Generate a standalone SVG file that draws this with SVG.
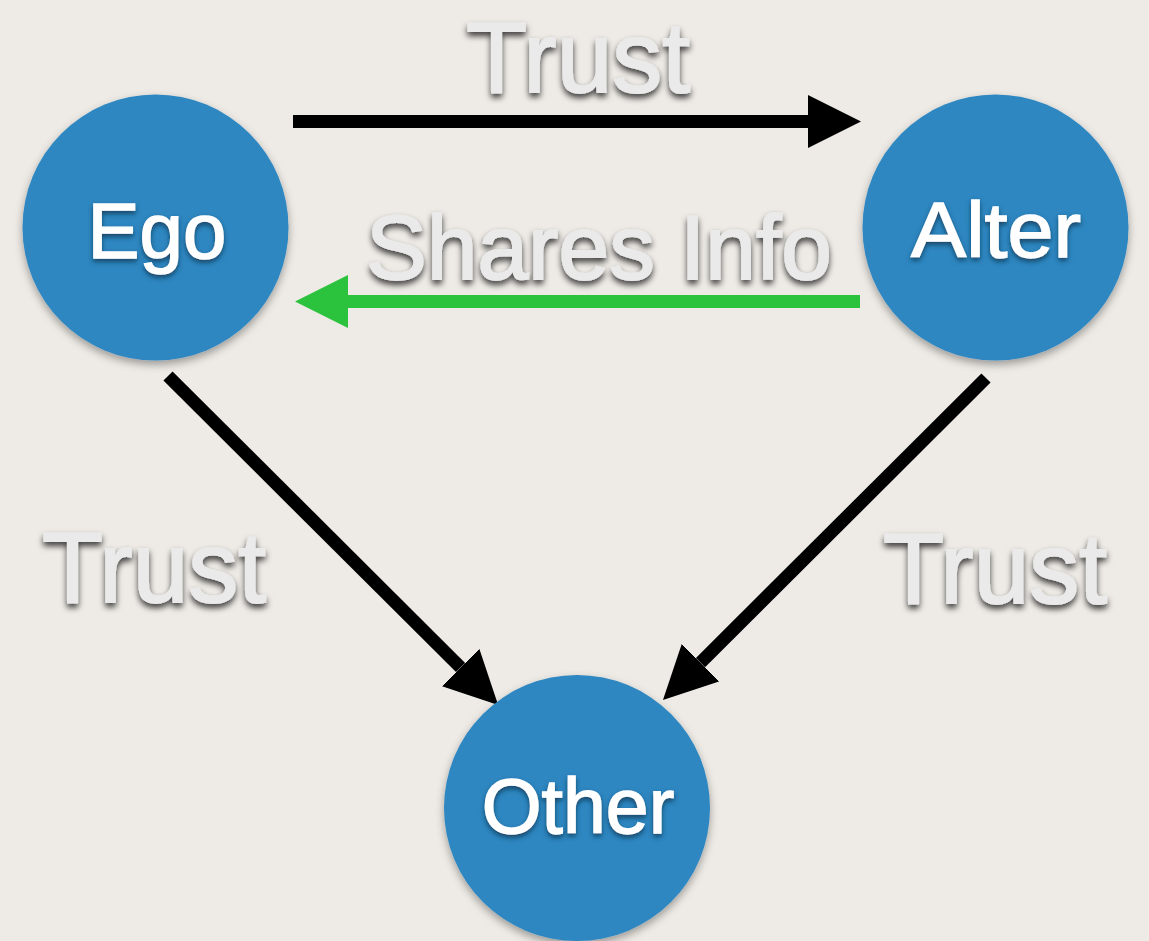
<svg xmlns="http://www.w3.org/2000/svg" width="1149" height="941" viewBox="0 0 1149 941">
  <defs>
    <filter id="nodeShadow" x="-20%" y="-20%" width="140%" height="140%">
      <feDropShadow dx="0" dy="4" stdDeviation="4" flood-color="#000" flood-opacity="0.35"/>
    </filter>
    <filter id="textShadow" x="-20%" y="-30%" width="140%" height="160%">
      <feDropShadow dx="0" dy="4" stdDeviation="3" flood-color="#000" flood-opacity="0.75"/>
    </filter>
    <filter id="labelShadow" x="-20%" y="-30%" width="140%" height="160%">
      <feDropShadow dx="0" dy="3" stdDeviation="2.5" flood-color="#0b3550" flood-opacity="0.8"/>
    </filter>
    <marker id="headBlack" markerUnits="userSpaceOnUse" markerWidth="54" markerHeight="54" refX="0" refY="26.5" orient="auto">
      <path d="M0,0 L53,26.5 L0,53 Z" fill="#000"/>
    </marker>
    <marker id="headGreen" markerUnits="userSpaceOnUse" markerWidth="54" markerHeight="54" refX="0" refY="26.5" orient="auto">
      <path d="M0,0 L53,26.5 L0,53 Z" fill="#2bc23d"/>
    </marker>
  </defs>
  <style>
    .node { fill: #2f87c1; filter: url(#nodeShadow); }
    .nlabel { font-family: "Liberation Sans", Arial, sans-serif; fill: #ffffff; stroke: #ffffff; stroke-width: 1.4; text-anchor: middle; filter: url(#labelShadow); }
    .elabel { font-family: "Liberation Sans", Arial, sans-serif; fill: #eaeaea; stroke: #eaeaea; stroke-width: 1.8; text-anchor: middle; filter: url(#textShadow); }
    .edge { stroke: #000; stroke-width: 13; fill: none; marker-end: url(#headBlack); }
    .edgeGreen { stroke: #2bc23d; stroke-width: 13; fill: none; marker-end: url(#headGreen); }
  </style>
  <rect width="1149" height="941" fill="#eeebe6"/>

  <g id="connectors">
    <line class="edge" x1="293" y1="121.5" x2="808" y2="121.5"/>
    <line class="edgeGreen" x1="860" y1="301.5" x2="348" y2="301.5"/>
    <line class="edge" x1="168" y1="376" x2="460.6" y2="667.5"/>
    <line class="edge" x1="986" y1="378" x2="700.5" y2="662.6"/>
  </g>

  <g id="edge-labels">
    <text class="elabel" x="578" y="92" font-size="100">Trust</text>
    <text class="elabel" x="599" y="279" font-size="90" textLength="466" lengthAdjust="spacingAndGlyphs">Shares Info</text>
    <text class="elabel" x="154" y="602" font-size="100">Trust</text>
    <text class="elabel" x="995" y="603" font-size="100">Trust</text>
  </g>

  <g id="node-ego">
    <circle class="node" cx="155.5" cy="227.5" r="133"/>
    <text class="nlabel" x="157" y="258" font-size="78">Ego</text>
  </g>
  <g id="node-alter">
    <circle class="node" cx="995.5" cy="227.5" r="133"/>
    <text class="nlabel" x="996" y="257" font-size="78" textLength="170" lengthAdjust="spacingAndGlyphs">Alter</text>
  </g>
  <g id="node-other">
    <circle class="node" cx="577" cy="808" r="133"/>
    <text class="nlabel" x="578" y="833" font-size="77">Other</text>
  </g>
</svg>
